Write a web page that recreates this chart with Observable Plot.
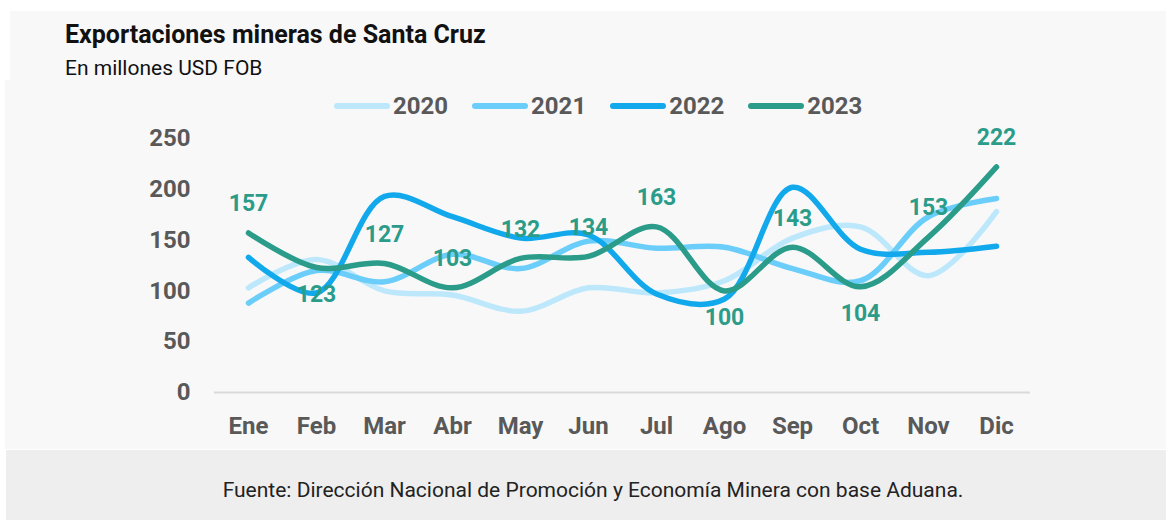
<!DOCTYPE html>
<html>
<head>
<meta charset="utf-8">
<script src="https://cdn.jsdelivr.net/npm/d3@7"></script>
<script src="https://cdn.jsdelivr.net/npm/@observablehq/plot@0.6"></script>
<style>
  html, body { margin: 0; padding: 0; background: #ffffff; }
  #wrap { position: relative; width: 1166px; height: 520px; overflow: hidden; font-family: Roboto, "Noto Sans", sans-serif; }
  .bg1 { position: absolute; left: 10px; top: 11px; width: 1156px; height: 69px; background: #f8f8f8; }
  .bg2 { position: absolute; left: 5px; top: 80px; width: 1161px; height: 369px; background: #f8f8f8; }
  .bg3 { position: absolute; left: 6px; top: 450px; width: 1160px; height: 70px; background: #eeeeee; }
  #title { position: absolute; left: 65px; top: 20px; font-size: 25px; font-weight: 700; color: #111; white-space: nowrap; line-height: 30px; }
  #subtitle { position: absolute; left: 65px; top: 55px; font-size: 21px; font-weight: 400; color: #111; white-space: nowrap; line-height: 26px; }
  #legend { position: absolute; left: 334px; top: 92px; display: flex; gap: 24px; white-space: nowrap; }
  .li { display: flex; align-items: center; }
  .sw { width: 56px; height: 6px; border-radius: 3px; margin-right: 3px; }
  .lt { font-size: 24px; font-weight: 700; color: #595959; }
  #chart { position: absolute; left: 0; top: 80px; }
  #caption { position: absolute; left: 0; width: 1186px; top: 477px; text-align: center; font-size: 21px; color: #222; white-space: nowrap; line-height: 26px; }
</style>
</head>
<body>
<div id="wrap">
  <div class="bg1"></div>
  <div class="bg2"></div>
  <div class="bg3"></div>
  <div id="title">Exportaciones mineras de Santa Cruz</div>
  <div id="subtitle">En millones USD FOB</div>
  <div id="legend"></div>
  <div id="chart"></div>
  <div id="caption">Fuente: Dirección Nacional de Promoción y Economía Minera con base Aduana.</div>
</div>
<script>
const months = ["Ene","Feb","Mar","Abr","May","Jun","Jul","Ago","Sep","Oct","Nov","Dic"];
const years = ["2020","2021","2022","2023"];
const v2020 = [103,131,100,96,80,103,98,110,152,163,115,178];
const v2021 = [88,120,109,136,122,149,142,143,122,110,173,191];
const v2022 = [133,98,193,173,152,155,97,92,202,141,138,144];
const v2023 = [157,123,127,103,132,134,163,100,143,104,153,222];
const labelSide = ["above","below","above","above","above","above","above","below","above","below","above","above"];
const yTicks = [0,50,100,150,200,250];
const colors = ["#bde8fc","#6bcdf9","#12a9ec","#2a9c89"];

const series = [v2020, v2021, v2022, v2023];
const rows = [];
years.forEach((yr, i) => months.forEach((m, j) => rows.push({year: yr, month: m, value: series[i][j], side: labelSide[j]})));
const rows2023 = rows.filter(d => d.year === "2023");

// legend
const legend = document.getElementById("legend");
years.forEach((yr, i) => {
  const item = document.createElement("div");
  item.className = "li";
  item.innerHTML = `<span class="sw" style="background:${colors[i]}"></span><span class="lt">${yr}</span>`;
  legend.appendChild(item);
});

const chart = Plot.plot({
  width: 1166,
  height: 369,
  marginLeft: 214,
  marginRight: 136,
  marginTop: 58,
  marginBottom: 57,
  style: {background: "transparent", fontFamily: "Roboto, 'Noto Sans', sans-serif", fontSize: "24px", fontWeight: "bold", overflow: "visible"},
  x: {type: "point", domain: months, padding: 0.5},
  y: {domain: [0, 250]},
  color: {domain: years, range: colors},
  marks: [
    Plot.ruleY([0], {stroke: "#d9d9d9", strokeWidth: 2}),
    Plot.axisY({ticks: yTicks, tickSize: 0, tickPadding: 24, color: "#595959", fontSize: 24, fontWeight: "bold", label: null}),
    Plot.axisX({tickSize: 0, tickPadding: 24, color: "#595959", fontSize: 24, fontWeight: "bold", label: null}),
    Plot.line(rows, {x: "month", y: "value", z: "year", stroke: "year", strokeWidth: 5.5, strokeLinecap: "round", curve: "catmull-rom"}),
    Plot.text(rows2023.filter(d => d.side === "above"), {x: "month", y: "value", text: d => String(d.value), dy: -29, fill: colors[3], fontSize: 23, fontWeight: "bold"}),
    Plot.text(rows2023.filter(d => d.side === "below"), {x: "month", y: "value", text: d => String(d.value), dy: 27, fill: colors[3], fontSize: 23, fontWeight: "bold"})
  ]
});
document.getElementById("chart").appendChild(chart);
</script>
</body>
</html>
